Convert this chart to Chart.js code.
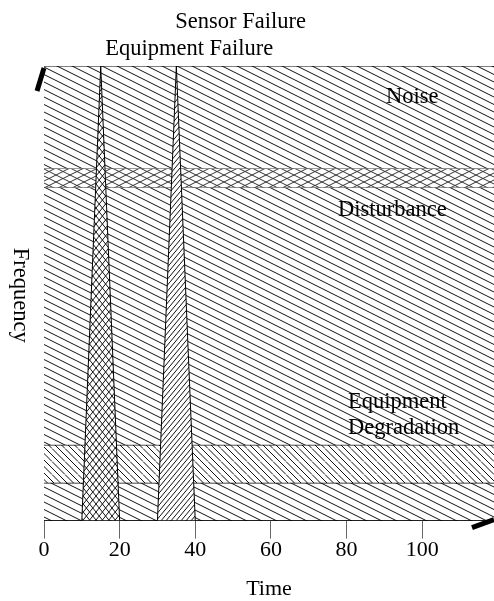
<!DOCTYPE html>
<html>
<head>
<meta charset="utf-8">
<script src="https://cdn.jsdelivr.net/npm/chart.js@4"></script>
<style>
html, body { margin: 0; padding: 0; background: #fff; }
</style>
</head>
<body>
<canvas id="grafico" width="494" height="601"></canvas>
<script>
// bands across the whole time range (y from lower to upper)
const bandNames = ["Noise", "Noise/Disturbance overlap", "Disturbance", "Equipment Degradation", "Baseline"]
const bandLower = [93, 88, 20, 10, 0]
const bandUpper = [120, 93, 88, 20, 10]

// short failures: start, peak and end time, reaching the top
const failureNames = ["Equipment Failure", "Sensor Failure"]
const failureStart = [10, 30]
const failurePeak = [15, 35]
const failureEnd = [20, 40]
const failureTop = 120

const timeMax = 119
const timeStep = 20

const canvas = document.getElementById("grafico")
const ctx = canvas.getContext("2d")
const serif = "'Liberation Serif', 'Times New Roman', serif"

// hatch tile: families of [slope, vertical spacing]
function hatch(families, w, h, colour) {
    const tile = document.createElement("canvas")
    tile.width = w
    tile.height = h
    const t = tile.getContext("2d")
    t.fillStyle = "#fff"
    t.fillRect(0, 0, w, h)
    t.strokeStyle = colour || "#111"
    t.lineWidth = 1
    families.forEach(([m, s]) => {
        const k = Math.ceil((Math.abs(m * w) + h) / s) + 1
        for (let i = -k; i <= k; i++) {
            const c0 = i * s
            t.beginPath()
            t.moveTo(0, c0)
            t.lineTo(w, c0 + m * w)
            t.stroke()
        }
    })
    return ctx.createPattern(tile, "repeat")
}

const plain = hatch([[0.5, 7.5]], 30, 15)
const steep = hatch([[1, 6.5]], 13, 13)
const strip = hatch([[0.5, 7], [-0.5, 7]], 28, 14, "#333")
const crossed = hatch([[1.25, 8], [-1.25, 8]], 32, 40)
const forward = hatch([[-1.2, 6]], 10, 12)

const bandFill = [plain, strip, plain, steep, plain]
const bandBorder = ["#000", "#555", "#444", "#000", "#000"]
const failureFill = [crossed, forward]

const datasets = []
failureNames.forEach((name, i) => {
    datasets.push({
        label: name,
        data: [
            { x: failureStart[i], y: 0 },
            { x: failurePeak[i], y: failureTop },
            { x: failureEnd[i], y: 0 },
        ],
        fill: "origin",
        backgroundColor: failureFill[i],
        borderColor: "#000",
        borderWidth: 1,
        pointRadius: 0,
        tension: 0,
    })
})
bandNames.forEach((name, i) => {
    datasets.push({
        label: name,
        data: [{ x: 0, y: bandUpper[i] }, { x: timeMax, y: bandUpper[i] }],
        fill: { value: bandLower[i] },
        backgroundColor: bandFill[i],
        borderColor: bandBorder[i],
        borderWidth: i >= 3 ? 1.4 : 1,
        pointRadius: 0,
    })
})

// text labels (data coordinates)
const notes = [
    { text: "Sensor Failure", x: 52, y: 131.6, align: "center" },
    { text: "Equipment Failure", x: 38.4, y: 124.5, align: "center" },
    { text: "Noise", x: 97.4, y: 111.8, align: "center" },
    { text: "Disturbance", x: 92.1, y: 81.9, align: "center" },
    { text: "Equipment", x: 80.4, y: 31.2, align: "left" },
    { text: "Degradation", x: 80.4, y: 24.3, align: "left" },
]

const extras = {
    id: "extras",
    afterDraw(chart) {
        const c = chart.ctx
        const a = chart.chartArea
        const sx = chart.scales.x
        const sy = chart.scales.y
        c.save()
        c.fillStyle = "#000"
        c.font = "22.5px " + serif
        c.textBaseline = "middle"
        notes.forEach(n => {
            c.textAlign = n.align
            c.fillText(n.text, sx.getPixelForValue(n.x), sy.getPixelForValue(n.y))
        })
        // y title, reading downwards
        c.save()
        c.translate(20, (a.top + a.bottom) / 2 + 2)
        c.rotate(Math.PI / 2)
        c.textAlign = "center"
        c.fillText("Frequency", 0, 0)
        c.restore()
        // axis arrows
        c.strokeStyle = "#000"
        c.lineWidth = 5
        c.lineCap = "butt"
        c.beginPath()
        c.moveTo(a.left - 7, a.top + 25)
        c.lineTo(a.left, a.top + 2)
        c.stroke()
        c.beginPath()
        c.moveTo(a.right - 22, a.bottom + 7)
        c.lineTo(a.right, a.bottom - 1)
        c.stroke()
        c.restore()
    }
}

new Chart(canvas, {
    type: "line",
    data: { datasets: datasets },
    options: {
        responsive: false,
        animation: false,
        layout: { padding: { left: 44, top: 66, right: 0, bottom: 0 } },
        plugins: {
            legend: { display: false },
            tooltip: { enabled: false },
        },
        scales: {
            x: {
                type: "linear",
                min: 0,
                max: timeMax,
                ticks: {
                    stepSize: timeStep,
                    includeBounds: false,
                    color: "#000",
                    padding: 0,
                    maxRotation: 0,
                    font: { family: serif, size: 22, lineHeight: 1.1 },
                },
                grid: { drawOnChartArea: false, drawTicks: true, tickLength: 18, color: "#666" },
                border: { display: true, color: "#000", width: 1 },
                title: {
                    display: true,
                    text: "Time",
                    color: "#000",
                    font: { family: serif, size: 22, lineHeight: 1.1 },
                    padding: { top: 14, bottom: 0 },
                },
            },
            y: {
                type: "linear",
                min: 0,
                max: failureTop,
                ticks: { display: false },
                grid: { drawOnChartArea: false, drawTicks: false },
                border: { display: true, color: "#000", width: 1 },
            },
        },
    },
    plugins: [extras],
})
</script>
</body>
</html>
